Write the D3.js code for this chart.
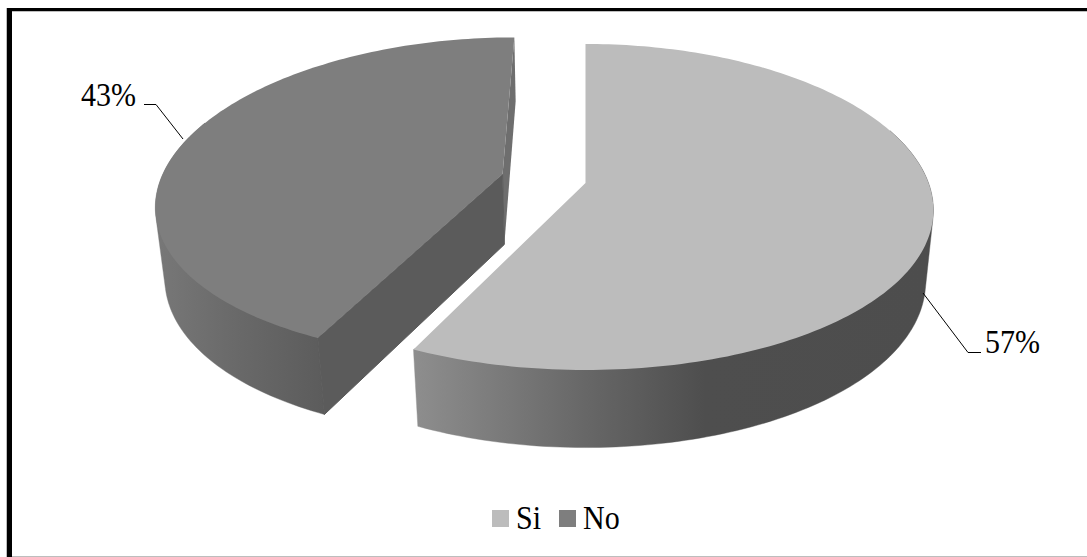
<!DOCTYPE html>
<html><head><meta charset="utf-8">
<script src="https://cdn.jsdelivr.net/npm/d3@7"></script>
<style>html,body{margin:0;padding:0;background:#fff}svg{display:block}</style>
</head><body>
<svg id="chart" width="1087" height="557"></svg>
<script>
const categories = ["Si", "No"];
const shares = [57, 43];
const percentLabels = ["57%", "43%"];

const svg = d3.select("#chart");
const W = 1087, H = 557;
const defs = svg.append("defs");

// Disc plane seen in perspective: apex at (cx,cy), depth shrinks the far side.
const cx = 585.5, cy = 183, RX = 343, RY = 159.5;
const perspX = 0.167, perspY = 0.147, thick = 72, shrink = 0.022;
const explodeDist = 0.25;

function project(u, v, z) {
  const wx = 1 - perspX * v + shrink * z;
  const wy = 1 - perspY * v + shrink * z;
  return [cx + RX * u / wx, cy + (RY * v + thick * z) / wy];
}

const pie = d3.pie().sort(null).value(d => d);
const arcs = pie(shares);

function disc(a, r, off) {
  return [off[0] + r * Math.sin(a), off[1] - r * Math.cos(a)];
}
function rimPoints(a0, a1, off, z) {
  const n = Math.max(2, Math.ceil(Math.abs(a1 - a0) / 0.02));
  return d3.range(n + 1).map(i => {
    const a = a0 + (a1 - a0) * i / n;
    const p = disc(a, 1, off);
    return project(p[0], p[1], z);
  });
}
const line = d3.line();

function offsetOf(i) {
  if (i === 0) return [0, 0];
  const mid = (arcs[i].startAngle + arcs[i].endAngle) / 2;
  return disc(mid, explodeDist, [0, 0]);
}

function linearGrad(id, x1, x2, stops) {
  const g = defs.append("linearGradient").attr("id", id)
    .attr("gradientUnits", "userSpaceOnUse")
    .attr("x1", x1).attr("x2", x2).attr("y1", 0).attr("y2", 0);
  stops.forEach(s => g.append("stop").attr("offset", s[0]).attr("stop-color", s[1]));
}
linearGrad("wallSi", 413, 934, [[0, "#8e8e8e"], [0.34, "#666666"], [0.56, "#4e4e4e"], [1, "#4d4d4d"]]);
linearGrad("wallNo", 155, 330, [[0, "#787878"], [0.5, "#686868"], [1, "#5b5b5b"]]);

const fills = ["#bcbcbc", "#7e7e7e"];
const walls = ["url(#wallSi)", "url(#wallNo)"];

// Slices are painted back to front: the exploded slice first.
// Only the part of the rim facing the viewer carries a wall, the side from
// the widest point of the ellipse round to the slice's near corner.
const wallArc = [
  [Math.PI / 2 - 0.35, arcs[0].endAngle],
  [arcs[1].startAngle, Math.PI * 1.5 + 0.35]
];
[1, 0].forEach(i => {
  const d = arcs[i], off = offsetOf(i);
  const g = svg.append("g");
  const apexTop = project(off[0], off[1], 0), apexBot = project(off[0], off[1], 1);
  const topRim = rimPoints(d.startAngle, d.endAngle, off, 0);

  const wallPts = rimPoints(wallArc[i][0], wallArc[i][1], off, 0)
    .concat(rimPoints(wallArc[i][0], wallArc[i][1], off, 1));
  g.append("path").attr("d", line(d3.polygonHull(wallPts)) + "Z")
    .attr("fill", walls[i]).attr("stroke", walls[i]).attr("stroke-width", 0.4);

  if (i === 1) {
    // Cut faces: one running from the apex to the near corner, a sliver on the far side.
    const startTop = topRim[0];
    const startBot = rimPoints(d.startAngle, d.startAngle, off, 1)[0];
    const endTop = topRim[topRim.length - 1];
    const endBot = rimPoints(d.endAngle, d.endAngle, off, 1)[0];
    g.append("path").attr("d", line([apexTop, endTop, endBot, apexBot]) + "Z").attr("fill", "#6e6e6e");
    g.append("path").attr("d", line([apexTop, startTop, startBot, apexBot]) + "Z")
      .attr("fill", "#5b5b5b").attr("stroke", "#5b5b5b").attr("stroke-width", 1).attr("stroke-linejoin", "round");
  }

  // Top face.
  g.append("path").attr("d", line([apexTop].concat(topRim)) + "Z").attr("fill", fills[i]);
});

// Leader lines and value labels.
const textFont = "'Liberation Serif','Times New Roman',serif";
const tallText = (sel, x, y) => sel
  .attr("transform", (d, i) => `translate(${x[i]},${y[i]}) scale(1,1.13)`)
  .attr("font-family", textFont).attr("font-size", 30).attr("fill", "#000");

const leaders = [
  [[923, 293], [968, 352.5], [981, 352.5]],
  [[183, 139], [156, 104.5], [144, 104.5]]
];
svg.append("g").selectAll("path").data(leaders).join("path")
  .attr("d", d => line(d)).attr("fill", "none").attr("stroke", "#000").attr("stroke-width", 1);
svg.append("g").selectAll("text").data(percentLabels).join("text")
  .call(tallText, [985, 81], [353, 106]).text(d => d);

// Legend.
const legendX = [492, 559], legendTextX = [516, 583];
const legend = svg.append("g");
legend.selectAll("rect").data(categories).join("rect")
  .attr("x", (d, i) => legendX[i]).attr("y", 510).attr("width", 17).attr("height", 17)
  .attr("fill", (d, i) => fills[i]);
legend.selectAll("text").data(categories).join("text")
  .call(tallText, legendTextX, [529, 529]).text(d => d);

// Frame.
const frame = svg.append("g");
frame.append("rect").attr("x", 6).attr("y", 8).attr("width", 1).attr("height", H - 8).attr("fill", "#bdbdbd");
frame.append("rect").attr("x", 7).attr("y", 8).attr("width", 5).attr("height", H - 8).attr("fill", "#000");
frame.append("rect").attr("x", 7).attr("y", 8).attr("width", W - 7).attr("height", 3).attr("fill", "#000");
frame.append("rect").attr("x", 12).attr("y", 11).attr("width", W - 12).attr("height", 1).attr("fill", "#bdbdbd");
frame.append("rect").attr("x", 12).attr("y", 556).attr("width", W - 12).attr("height", 1).attr("fill", "#bdbdbd");
</script>
</body></html>
